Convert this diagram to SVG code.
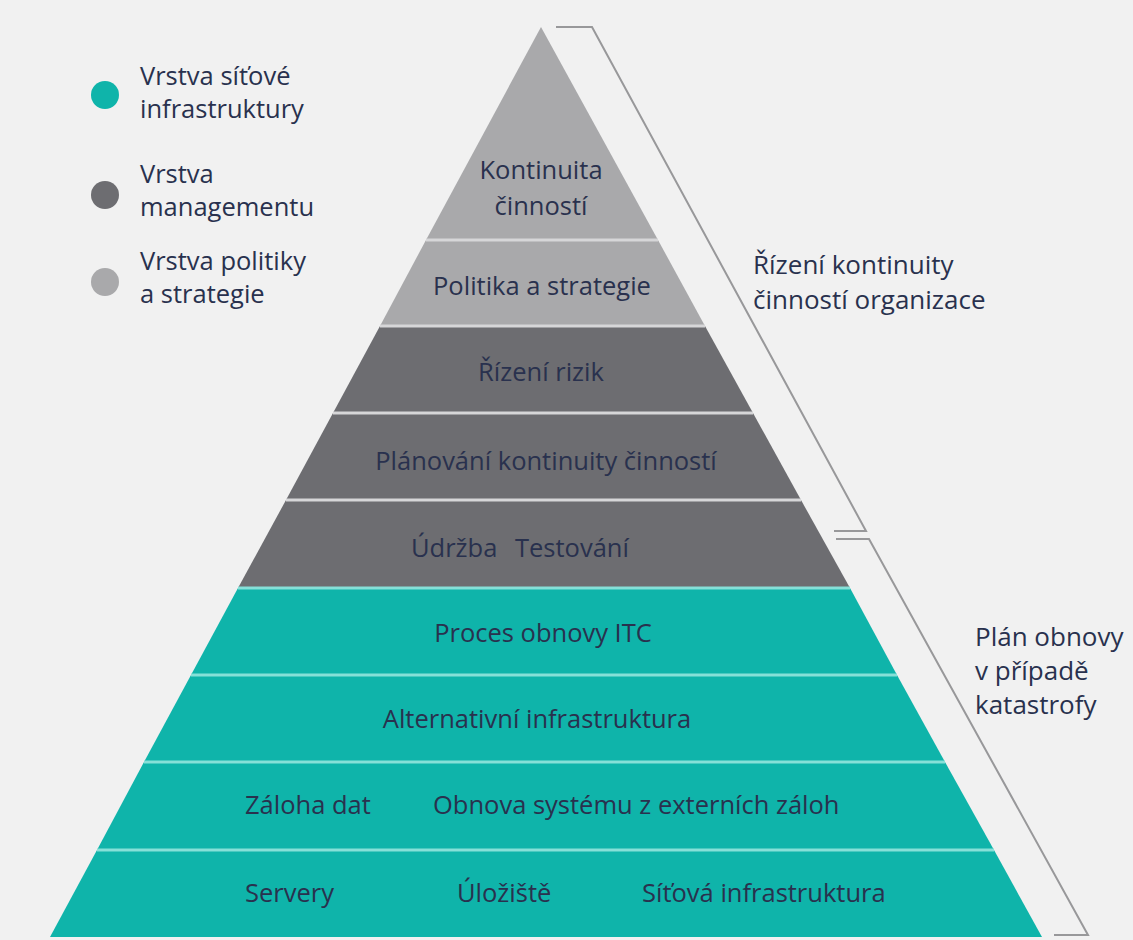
<svg xmlns="http://www.w3.org/2000/svg" width="1133" height="940" viewBox="0 0 1133 940">
  <style>
    .t { font-family: "Open Sans", "Noto Sans", "DejaVu Sans", sans-serif; font-size: 25.5px; fill: #29314e; }
    .side { font-size: 26px; }
    .c { text-anchor: middle; }
    .light { fill: #a9a9ab; }
    .dark { fill: #6d6d71; }
    .teal { fill: #0fb4aa; }
    .sepg { stroke: #d6d6d8; stroke-width: 3; }
    .sept { stroke: #86e0d8; stroke-width: 3; }
    .brk { fill: none; stroke: #98989a; stroke-width: 2; stroke-linejoin: miter; }
  </style>

  <rect width="1133" height="940" fill="#f1f1f1"/>

  <!-- legend -->
  <g id="legend">
    <circle cx="105" cy="95" r="14" class="teal"/>
    <text class="t" x="140" y="85">Vrstva síťové</text>
    <text class="t" x="140" y="118">infrastruktury</text>
    <circle cx="105" cy="195" r="14" class="dark"/>
    <text class="t" x="140" y="183">Vrstva</text>
    <text class="t" x="140" y="216">managementu</text>
    <circle cx="105" cy="282" r="14" class="light"/>
    <text class="t" x="140" y="270">Vrstva politiky</text>
    <text class="t" x="140" y="303">a strategie</text>
  </g>

  <!-- pyramid layers, top to bottom -->
  <g id="layer-kontinuita">
    <polygon class="light" points="541,27 658,240 426,240"/>
    <text class="t c" x="541" y="179">Kontinuita</text>
    <text class="t c" x="541" y="215">činností</text>
  </g>
  <g id="layer-politika">
    <polygon class="light" points="426,240 658,240 705,326 380,326"/>
    <text class="t c" x="542" y="295">Politika a strategie</text>
  </g>
  <g id="layer-rizeni-rizik">
    <polygon class="dark" points="380,326 705,326 753,413 333,413"/>
    <text class="t c" x="541" y="381">Řízení rizik</text>
  </g>
  <g id="layer-planovani">
    <polygon class="dark" points="333,413 753,413 801,500 286,500"/>
    <text class="t c" x="546" y="470">Plánování kontinuity činností</text>
  </g>
  <g id="layer-udrzba">
    <polygon class="dark" points="286,500 801,500 850,588 238,588"/>
    <text class="t" x="411" y="557">Údržba</text>
    <text class="t" x="515" y="557">Testování</text>
  </g>
  <g id="layer-proces-obnovy">
    <polygon class="teal" points="238,588 850,588 897,675 191,675"/>
    <text class="t c" x="543" y="642">Proces obnovy ITC</text>
  </g>
  <g id="layer-alternativni">
    <polygon class="teal" points="191,675 897,675 945,762 144,762"/>
    <text class="t c" x="537" y="728">Alternativní infrastruktura</text>
  </g>
  <g id="layer-zaloha">
    <polygon class="teal" points="144,762 945,762 994,850 97,850"/>
    <text class="t" x="245" y="814">Záloha dat</text>
    <text class="t" x="433" y="814">Obnova systému z externích záloh</text>
  </g>
  <g id="layer-infrastruktura">
    <polygon class="teal" points="97,850 994,850 1042,937 50,937"/>
    <text class="t" x="245" y="902">Servery</text>
    <text class="t" x="457" y="902">Úložiště</text>
    <text class="t" x="642" y="902">Síťová infrastruktura</text>
  </g>

  <!-- layer separators -->
  <g id="separators">
    <line class="sepg" x1="426" y1="240" x2="658" y2="240"/>
    <line class="sepg" x1="380" y1="326" x2="705" y2="326"/>
    <line class="sepg" x1="333" y1="413" x2="753" y2="413"/>
    <line class="sepg" x1="286" y1="500" x2="801" y2="500"/>
    <line class="sept" x1="238" y1="588" x2="850" y2="588"/>
    <line class="sept" x1="191" y1="675" x2="897" y2="675"/>
    <line class="sept" x1="144" y1="762" x2="945" y2="762"/>
    <line class="sept" x1="97" y1="850" x2="994" y2="850"/>
  </g>

  <!-- brackets grouping the layers -->
  <g id="connectors">
    <polyline class="brk" points="556,27 592,27 866,531 834,531"/>
    <polyline class="brk" points="836,539 869,539 1088,935 1054,935"/>
  </g>

  <g id="label-rizeni">
    <text class="t side" x="753" y="274">Řízení kontinuity</text>
    <text class="t side" x="753" y="309">činností organizace</text>
  </g>
  <g id="label-plan">
    <text class="t side" x="975" y="646">Plán obnovy</text>
    <text class="t side" x="975" y="680">v případě</text>
    <text class="t side" x="975" y="714">katastrofy</text>
  </g>
</svg>
